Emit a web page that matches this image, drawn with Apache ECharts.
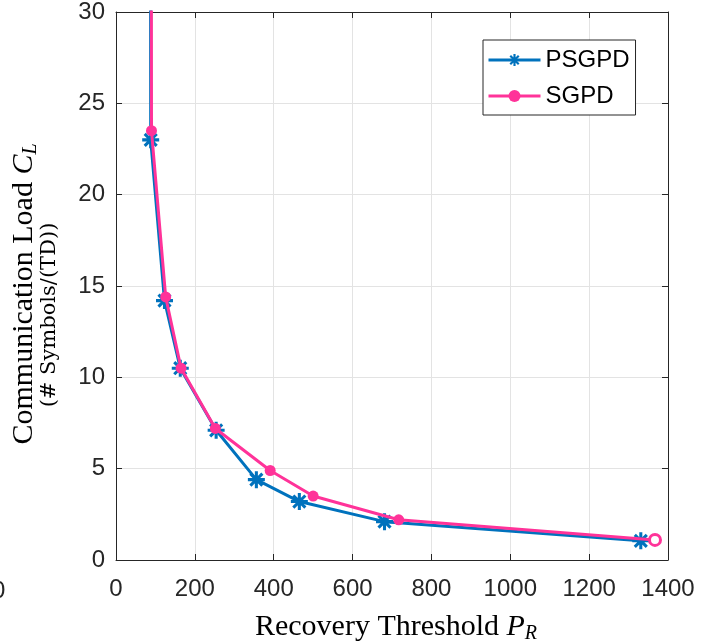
<!DOCTYPE html>
<html>
<head>
<meta charset="utf-8">
<script src="https://cdn.jsdelivr.net/npm/echarts@6/dist/echarts.min.js"></script>
<style>
html,body{margin:0;padding:0;background:#fff;}
#c{width:712px;height:642px;}
</style>
</head>
<body>
<div id="c"></div>
<script>
// Data
const psgpdX = [86, 88, 123, 163, 254, 356, 465, 681, 1331];
const psgpdY = [80, 23.0, 14.2, 10.5, 7.1, 4.4, 3.2, 2.1, 1.05];
const sgpdX = [88, 90, 126, 165, 252, 391, 500, 717, 1367];
const sgpdY = [80, 23.5, 14.4, 10.5, 7.2, 4.9, 3.5, 2.2, 1.1];
const xTicks = [0, 200, 400, 600, 800, 1000, 1200, 1400];
const yTicks = [0, 5, 10, 15, 20, 25, 30];

const BLUE = '#0072BD';
const PINK = '#FF3399';
const AX = '#262626';

const asterisk = 'path://M8.2 0L11.8 0L11.8 20L8.2 20Z M0 8.2L20 8.2L20 11.8L0 11.8Z M4.2 1.66L18.34 15.8L15.8 18.34L1.66 4.2Z M15.8 1.66L18.34 4.2L4.2 18.34L1.66 15.8Z';

const pairs = (xs, ys) => xs.map((x, i) => [x, ys[i]]);
const sgpdData = pairs(sgpdX, sgpdY).map((p, i, a) =>
  i === a.length - 1 ? {value: p, itemStyle: {color: '#fff', borderColor: PINK, borderWidth: 3}} : p);

const chart = echarts.init(document.getElementById('c'), null, {renderer: 'canvas'});
const tickFont = {fontFamily: 'Liberation Sans, Arial, sans-serif', fontSize: 24, color: AX};

chart.setOption({
  animation: false,
  grid: {left: 116, right: 44, top: 11, bottom: 82, containLabel: false},
  xAxis: [{
    type: 'value', min: xTicks[0], max: xTicks[xTicks.length - 1], interval: 200,
    axisLine: {show: true, lineStyle: {color: AX, width: 1}},
    axisTick: {show: true, inside: true, length: 6, lineStyle: {color: AX}},
    axisLabel: Object.assign({margin: 17, formatter: v => String(v)}, tickFont),
    splitLine: {show: true, lineStyle: {color: '#e3e3e3', width: 1}}
  }, {
    type: 'value', position: 'top', min: 0, max: 1400, interval: 200,
    axisLine: {show: true, onZero: false, lineStyle: {color: AX, width: 1}},
    axisTick: {show: true, inside: true, length: 6, lineStyle: {color: AX}},
    axisLabel: {show: false}, splitLine: {show: false}
  }],
  yAxis: [{
    type: 'value', min: yTicks[0], max: yTicks[yTicks.length - 1], interval: 5,
    axisLine: {show: true, lineStyle: {color: AX, width: 1}},
    axisTick: {show: true, inside: true, length: 6, lineStyle: {color: AX}},
    axisLabel: Object.assign({margin: 11, formatter: v => String(v)}, tickFont),
    splitLine: {show: true, lineStyle: {color: '#e3e3e3', width: 1}}
  }, {
    type: 'value', position: 'right', min: 0, max: 30, interval: 5,
    axisLine: {show: true, onZero: false, lineStyle: {color: AX, width: 1}},
    axisTick: {show: true, inside: true, length: 6, lineStyle: {color: AX}},
    axisLabel: {show: false}, splitLine: {show: false}
  }],
  legend: {
    left: 483, top: 40, orient: 'vertical',
    padding: [8, 6, 7, 4], itemGap: 12,
    borderColor: AX, borderWidth: 1, backgroundColor: '#fff',
    itemWidth: 52, itemHeight: 15,
    lineStyle: {width: 3},
    textStyle: {fontFamily: 'Liberation Sans, Arial, sans-serif', fontSize: 24, color: '#000', padding: [0, 0, 0, 0]},
    data: ['PSGPD', 'SGPD']
  },
  series: [{
    name: 'PSGPD', type: 'line', data: pairs(psgpdX, psgpdY), clip: true,
    symbol: asterisk, symbolSize: 17,
    lineStyle: {color: BLUE, width: 3}, itemStyle: {color: BLUE},
    z: 2
  }, {
    name: 'SGPD', type: 'line', data: sgpdData, clip: true,
    symbol: 'circle', symbolSize: 11,
    lineStyle: {color: PINK, width: 3}, itemStyle: {color: PINK},
    z: 3
  }],
  graphic: [{
    type: 'text', x: 24, y: 294, rotation: Math.PI / 2,
    style: {
      text: '{n|Communication Load }{i|C}{s|L}',
      align: 'center', verticalAlign: 'middle',
      rich: {
        n: {fontFamily: 'Liberation Serif, serif', fontSize: 30, fill: '#000'},
        i: {fontFamily: 'Liberation Serif, serif', fontStyle: 'italic', fontSize: 30, fill: '#000'},
        s: {fontFamily: 'Liberation Serif, serif', fontStyle: 'italic', fontSize: 20, fill: '#000', padding: [14, 0, 0, 0]}
      }
    }
  }, {
    type: 'text', x: 50, y: 315, rotation: Math.PI / 2,
    style: {
      text: '(# Symbols/(TD))', align: 'center', verticalAlign: 'middle',
      font: '21px DejaVu Serif, serif', fill: '#000'
    }
  }, {
    type: 'text', x: 396, y: 627,
    style: {
      text: '{n|Recovery Threshold }{i|P}{s|R}',
      align: 'center', verticalAlign: 'middle',
      rich: {
        n: {fontFamily: 'Liberation Serif, serif', fontSize: 30, fill: '#000'},
        i: {fontFamily: 'Liberation Serif, serif', fontStyle: 'italic', fontSize: 30, fill: '#000'},
        s: {fontFamily: 'Liberation Serif, serif', fontStyle: 'italic', fontSize: 20, fill: '#000', padding: [14, 0, 0, 0]}
      }
    }
  }, {
    type: 'text', x: -8, y: 591,
    style: {text: '0', align: 'left', verticalAlign: 'middle', font: '24px Liberation Sans, Arial, sans-serif', fill: AX}
  }]
});
</script>
</body>
</html>
